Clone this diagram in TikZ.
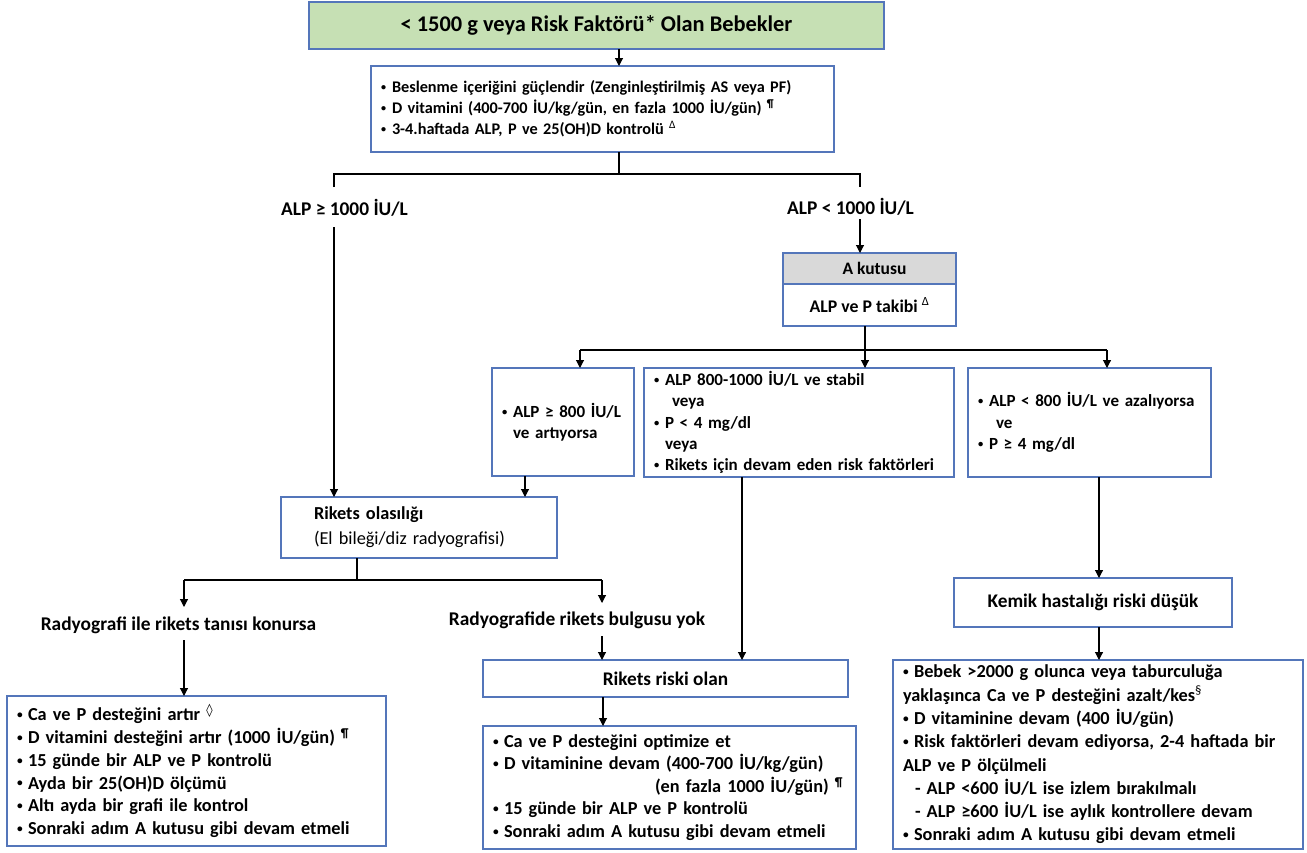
\documentclass[tikz,border=0pt]{standalone}
\usepackage{fontspec}
\setmainfont{Carlito}
\newfontfamily\dvs{DejaVu Sans}
\usetikzlibrary{arrows.meta}
\definecolor{bxc}{RGB}{84,118,186}
\definecolor{grf}{RGB}{198,224,180}
\definecolor{hdf}{RGB}{217,217,217}
\newcommand{\bul}{\makebox[11pt][l]{\raisebox{0.12em}{\scalebox{0.62}{•}}}}
\newcommand{\hang}{\hspace*{11pt}}
\tikzset{
  box/.style={draw=bxc, line width=1.1pt, inner sep=0pt, outer sep=0pt},
  arr/.style={draw=black, line width=1.1pt, -{Triangle[length=8pt,width=8pt]}},
  ln/.style={draw=black, line width=1.1pt},
  lbl/.style={inner sep=0pt, font=\bfseries\fontsize{19.4}{22}\selectfont},
  bf/.style 2 args={font=\bfseries\fontsize{#1}{#2}\selectfont},
}
\begin{document}
\begin{tikzpicture}[x=1pt,y=-1pt]
\useasboundingbox (0,0) rectangle (1307,852);
\fill[white] (0,0) rectangle (1307,852);

% boxes
\node[box, fill=grf, minimum width=575pt, minimum height=47pt, bf={22.4}{26}] (top) at (596.5,25.5) {< 1500 g veya Risk Faktörü* Olan Bebekler};

\node[box, bf={16.25}{21}, text width=443pt, inner xsep=10pt, minimum height=86pt, align=left] (b2) at (602.5,109)
 {\bul Beslenme içeriğini güçlendir (Zenginleştirilmiş AS veya PF)\\
  \bul D vitamini (400-700 İU/kg/gün, en fazla 1000 İU/gün) \textsuperscript{¶}\\
  \bul 3-4.haftada ALP, P ve 25(OH)D kontrolü \textsuperscript{\mdseries Δ}};

\node[box, fill=hdf, bf={17.5}{20}, minimum width=173pt, minimum height=31pt] (ah) at (869.5,268.5) {\hspace*{10pt}A kutusu};
\node[box, bf={17.8}{20}, minimum width=173pt, minimum height=42pt] (ab) at (869.5,305) {ALP ve P takibi \textsuperscript{\mdseries Δ}};

\node[box, bf={17}{21.3}, text width=122pt, inner xsep=10pt, minimum height=108pt, align=left] (l1) at (563,422)
 {\bul ALP ≥ 800 İU/L\\ \hang ve artıyorsa};

\node[box, bf={17}{21.3}, text width=290pt, inner xsep=10pt, minimum height=109pt, align=left] (m1) at (799,422.5)
 {\bul ALP 800-1000 İU/L ve stabil\\
  \hspace*{18pt}veya\\
  \bul P < 4 mg/dl\\
  \hang veya\\
  \bul Rikets için devam eden risk faktörleri};

\node[box, bf={17}{21.5}, text width=223pt, inner xsep=10pt, minimum height=109pt, align=left] (r1) at (1089.5,422.5)
 {\bul ALP < 800 İU/L ve azalıyorsa\\
  \hspace*{18pt}ve\\
  \bul P ≥ 4 mg/dl};

\node[box, font=\fontsize{18.3}{25}\selectfont, text width=210pt, inner xsep=33pt, minimum height=61pt, align=left] (ro) at (419,527.5)
 {{\bfseries Rikets olasılığı}\\ (El bileği/diz radyografisi)};

\node[box, bf={19.3}{22}, minimum width=365pt, minimum height=37pt] (rr) at (665.5,678.5) {Rikets riski olan};

\node[box, bf={18.3}{22.5}, text width=353pt, inner xsep=10pt, minimum height=123pt, align=left] (mb) at (669.5,787.5)
 {\bul Ca ve P desteğini optimize et\\
  \bul D vitaminine devam (400-700 İU/kg/gün)\\
  \hspace*{162pt}(en fazla 1000 İU/gün) \textsuperscript{¶}\\
  \bul 15 günde bir ALP ve P kontrolü\\
  \bul Sonraki adım A kutusu gibi devam etmeli};

\node[box, bf={18.3}{22.8}, text width=359pt, inner xsep=10pt, minimum height=150pt, align=left] (lb) at (196.5,771)
 {\bul Ca ve P desteğini artır \textsuperscript{\mdseries\dvs ◊}\\
  \bul D vitamini desteğini artır (1000 İU/gün) \textsuperscript{¶}\\
  \bul 15 günde bir ALP ve P kontrolü\\
  \bul Ayda bir 25(OH)D ölçümü\\
  \bul Altı ayda bir grafi ile kontrol\\
  \bul Sonraki adım A kutusu gibi devam etmeli};

\node[box, bf={19.3}{22}, minimum width=278pt, minimum height=49pt] (km) at (1093,602.5) {Kemik hastalığı riski düşük};

\node[box, bf={18.3}{23.3}, text width=390pt, inner xsep=10pt, minimum height=189pt, align=left] (rb) at (1098,754.5)
 {\bul Bebek >2000 g olunca veya taburculuğa\\
  yaklaşınca Ca ve P desteğini azalt/kes\textsuperscript{\mdseries §}\\
  \bul D vitaminine devam (400 İU/gün)\\
  \bul Risk faktörleri devam ediyorsa, 2-4 haftada bir\\
  ALP ve P ölçülmeli\\
  \hspace*{12pt}- ALP <600 İU/L ise izlem bırakılmalı\\
  \hspace*{12pt}- ALP ≥600 İU/L ise aylık kontrollere devam\\
  \bul Sonraki adım A kutusu gibi devam etmeli};

% labels
\node[lbl] (la1) at (344.5,208) {ALP ≥ 1000 İU/L};
\node[lbl] (la2) at (850.5,207) {ALP < 1000 İU/L};
\node[lbl] (rad1) at (178.5,625) {Radyografi ile rikets tanısı konursa};
\node[lbl] (rad2) at (577,620) {Radyografide rikets bulgusu yok};

% junction coordinates
\coordinate (j1) at (619,174);
\coordinate (tl) at (334,187);
\coordinate (tr) at (860,187);
\coordinate (tl2) at (334,227);
\coordinate (tr2) at (860,219);
\coordinate (j2) at (865,350);
\coordinate (jl) at (580,350);
\coordinate (jr) at (1107,350);
\coordinate (c525) at (525,0);
\coordinate (c742) at (742,0);
\coordinate (c1099) at (1099,0);
\coordinate (j3) at (357,580);
\coordinate (l3) at (184,580);
\coordinate (r3) at (602,580);
\coordinate (l3t) at (184,607);
\coordinate (r3t) at (602,603);
\coordinate (l4) at (184,640);
\coordinate (r4) at (602,636);
\coordinate (c603) at (603,0);

% connectors
\draw[arr] (j1 |- top.south) -- (j1 |- b2.north);
\draw[ln] (j1 |- b2.south) -- (j1);
\draw[ln] (tl) |- (j1) -| (tr);
\draw[arr] (tl2) -- (tl2 |- ro.north);
\draw[arr] (tr2) -- (tr2 |- ah.north);
\draw[ln] (j2 |- ab.south) -- (j2);
\draw[ln] (jl) -- (jr);
\draw[arr] (jl) -- (jl |- l1.north);
\draw[arr] (j2) -- (j2 |- m1.north);
\draw[arr] (jr) -- (jr |- r1.north);
\draw[arr] (c525 |- l1.south) -- (c525 |- ro.north);
\draw[arr] (c742 |- m1.south) -- (c742 |- rr.north);
\draw[arr] (c1099 |- r1.south) -- (c1099 |- km.north);
\draw[arr] (c1099 |- km.south) -- (c1099 |- rb.north);
\draw[ln] (j3 |- ro.south) -- (j3);
\draw[ln] (l3) -- (r3);
\draw[arr] (l3) -- (l3t);
\draw[arr] (r3) -- (r3t);
\draw[arr] (l4) -- (l4 |- lb.north);
\draw[arr] (r4) -- (r4 |- rr.north);
\draw[arr] (c603 |- rr.south) -- (c603 |- mb.north);
\end{tikzpicture}
\end{document}
